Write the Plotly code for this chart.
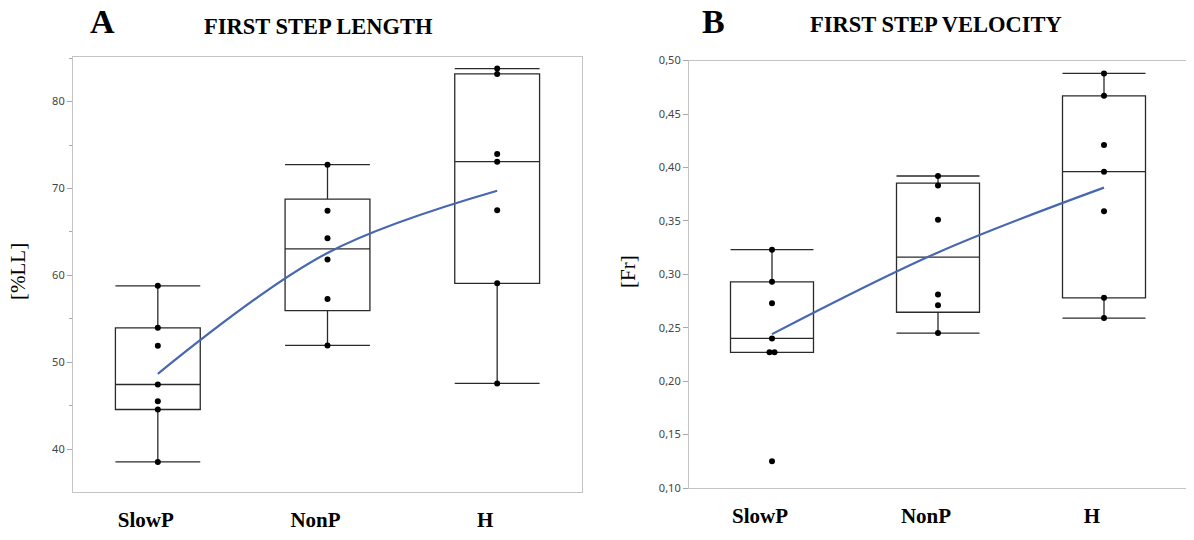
import numpy as np
import plotly.graph_objects as go

categories = ["SlowP", "NonP", "H"]

# First step length [%LL]
length_slowp = [58.80, 53.96, 51.89, 47.44, 45.52, 44.56, 38.53]
length_nonp = [72.74, 67.44, 64.26, 61.84, 57.27, 51.94]
length_h = [83.80, 83.19, 73.97, 73.09, 67.49, 59.08, 47.56]

# First step velocity [Fr]
velocity_slowp = [0.323, 0.293, 0.273, 0.240, 0.227, 0.227, 0.125]
velocity_nonp = [0.392, 0.383, 0.351, 0.281, 0.271, 0.245]
velocity_h = [0.488, 0.467, 0.421, 0.396, 0.359, 0.278, 0.259]

length_ticks = [40, 50, 60, 70, 80]
velocity_ticks = [0.10, 0.15, 0.20, 0.25, 0.30, 0.35, 0.40, 0.45, 0.50]

length_groups = [length_slowp, length_nonp, length_h]
velocity_groups = [velocity_slowp, velocity_nonp, velocity_h]

SERIF = "Liberation Serif"
TICKFONT = dict(family="Noto Sans", size=11, color="#444444")
FRAME = "#c4c4c4"
LINE_BLUE = "#4767b1"

# the page body has an 8px margin, so the figure is sized/placed to compensate
W, H, OFF = 1186, 532, 8


def fx(px):
    return (px - OFF) / W


def fy(py):
    return 1 - (py - OFF) / H


def stats(groups):
    q1 = [float(np.quantile(g, 0.25, method="weibull")) for g in groups]
    med = [float(np.median(g)) for g in groups]
    q3 = [float(np.quantile(g, 0.75, method="weibull")) for g in groups]
    lo, hi = [], []
    for g, a, b in zip(groups, q1, q3):
        iqr = b - a
        inside = [v for v in g if a - 1.5 * iqr <= v <= b + 1.5 * iqr]
        lo.append(float(min(inside)))
        hi.append(float(max(inside)))
    mean = [float(np.mean(g)) for g in groups]
    return q1, med, q3, lo, hi, mean


def point_xy(groups):
    xs, ys = [], []
    for i, g in enumerate(groups):
        seen = {}
        for v in g:
            n_same = g.count(v)
            k = seen.get(v, 0)
            seen[v] = k + 1
            off = (k - (n_same - 1) / 2) * 0.03
            xs.append(i + off)
            ys.append(v)
    return xs, ys


fig = go.Figure()

for groups, xa, ya in [(length_groups, "x", "y"), (velocity_groups, "x2", "y2")]:
    q1, med, q3, lo, hi, mean = stats(groups)
    fig.add_trace(go.Box(
        x=[0, 1, 2], q1=q1, median=med, q3=q3, lowerfence=lo, upperfence=hi,
        width=0.5, whiskerwidth=1, boxpoints=False,
        fillcolor="rgba(0,0,0,0)", line=dict(color="#2a2a2a", width=1.3),
        xaxis=xa, yaxis=ya, showlegend=False, hoverinfo="skip"))
    fig.add_trace(go.Scatter(
        x=[0, 1, 2], y=mean, mode="lines", line=dict(color=LINE_BLUE, width=2.2, shape="spline"),
        xaxis=xa, yaxis=ya, showlegend=False))
    px, py = point_xy(groups)
    fig.add_trace(go.Scatter(
        x=px, y=py, mode="markers", marker=dict(color="black", size=6),
        xaxis=xa, yaxis=ya, showlegend=False))

xcommon = dict(range=[-0.5, 2.5], tickvals=[0, 1, 2], ticktext=categories,
               showline=True, mirror=True, linecolor=FRAME, linewidth=1.2,
               ticks="", showgrid=False, zeroline=False, automargin=False,
               tickfont=dict(family=SERIF, size=21, color="black", weight="bold"),
               ticklabelstandoff=9, ticklabelshift=-12)
ycommon = dict(showline=True, mirror=True, linecolor=FRAME, linewidth=1.2,
               ticks="outside", ticklen=5, tickcolor="#a8a8a8", tickwidth=1,
               showgrid=False, zeroline=False, tickfont=TICKFONT, automargin=False)

fig.update_layout(
    width=W, height=H,
    margin=dict(l=0, r=0, t=0, b=0, autoexpand=False),
    paper_bgcolor="white", plot_bgcolor="white",
    separators=",.",
    xaxis=dict(domain=[fx(73), fx(582)], **xcommon),
    yaxis=dict(domain=[fy(491.7), fy(57.3)], range=[35.1, 85.1], tickvals=length_ticks,
               minor=dict(dtick=5, ticks="outside", ticklen=3, tickcolor="#a8a8a8"),
               **ycommon),
    xaxis2=dict(domain=[fx(689), fx(1187)], anchor="y2", **xcommon),
    yaxis2=dict(domain=[fy(488), fy(60.6)], range=[0.10, 0.50], tickvals=velocity_ticks,
                tickformat=".2f", anchor="x2", **ycommon),
)

annotations = [
    dict(text="<b>A</b>", x=fx(102), y=fy(21), font=dict(family=SERIF, size=34)),
    dict(text="<b>FIRST STEP LENGTH</b>", x=fx(318), y=fy(26), font=dict(family=SERIF, size=22.5)),
    dict(text="<b>B</b>", x=fx(713), y=fy(21), font=dict(family=SERIF, size=34)),
    dict(text="<b>FIRST STEP VELOCITY</b>", x=fx(936), y=fy(24), font=dict(family=SERIF, size=22.5)),
    dict(text="[%LL]", x=fx(18), y=fy(272), textangle=-90, font=dict(family=SERIF, size=21)),
    dict(text="[Fr]", x=fx(628), y=fy(272), textangle=-90, font=dict(family=SERIF, size=21)),
]
for a in annotations:
    a.update(xref="paper", yref="paper", showarrow=False, xanchor="center", yanchor="middle")
    a["font"]["color"] = "black"
fig.update_layout(annotations=annotations)

fig.write_html("out.html")
